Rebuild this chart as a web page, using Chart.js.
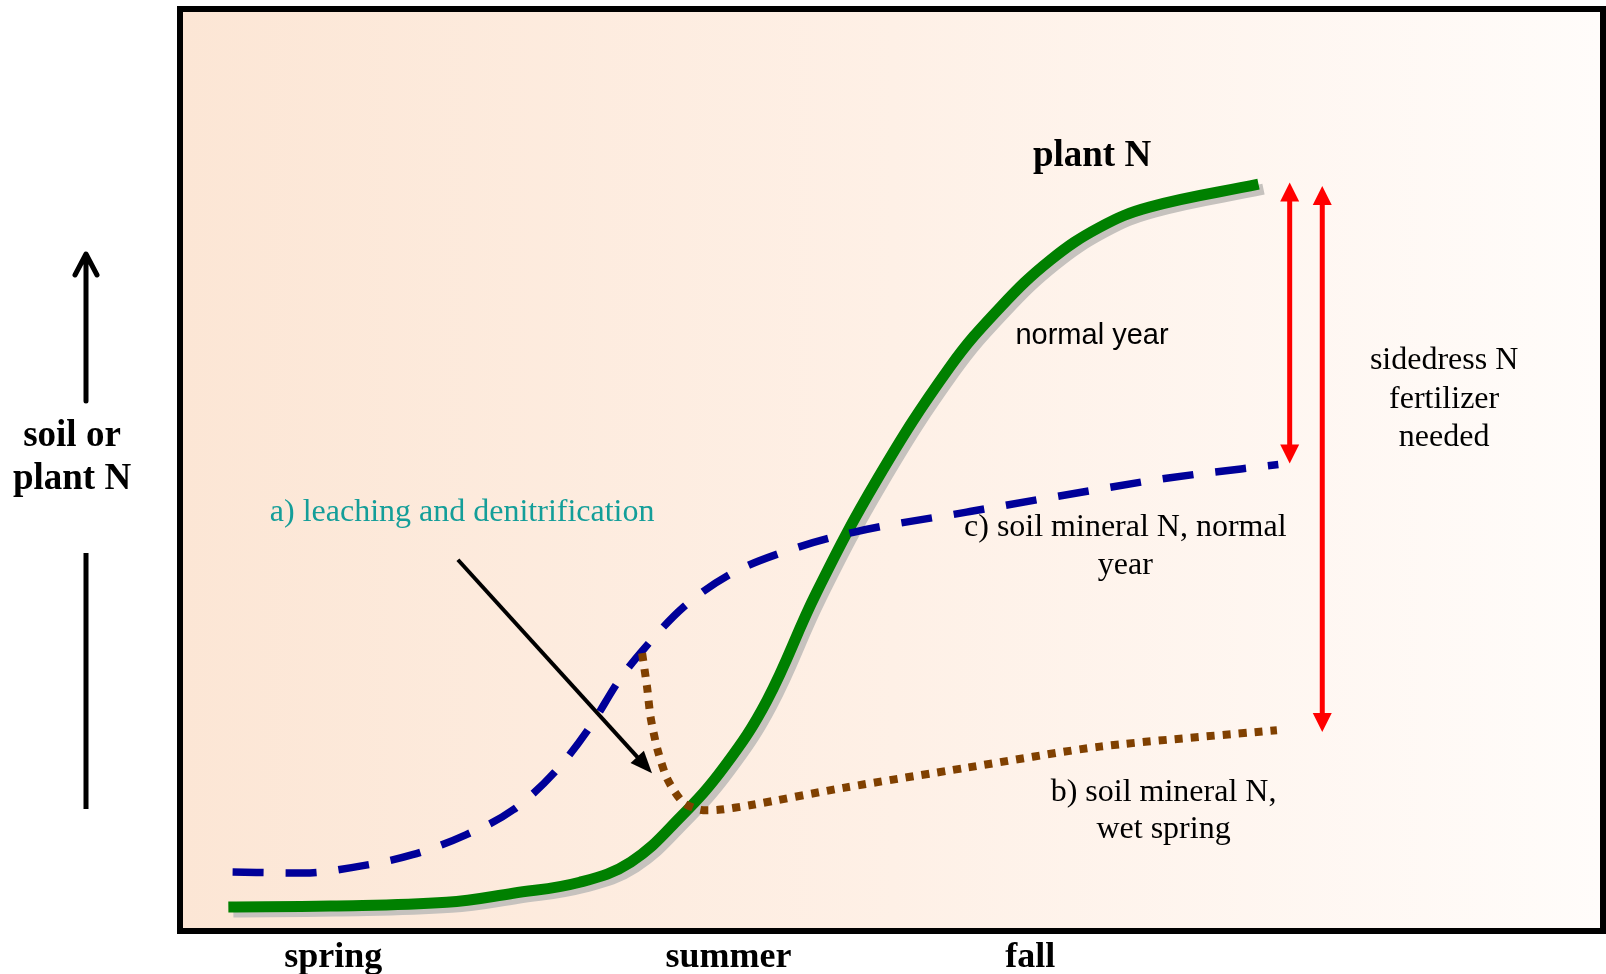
<!DOCTYPE html>
<html><head><meta charset="utf-8">
<script src="https://cdn.jsdelivr.net/npm/chart.js@4/dist/chart.umd.min.js"></script>
<style>html,body{margin:0;padding:0;background:#fff;overflow:hidden}#wrap{width:1606px;height:974px;position:relative}</style>
</head><body><div id="wrap"><canvas id="c" width="1606" height="974"></canvas></div>
<script>
// ---- data (x = time through the season, y = relative N level, both 0-100) ----
const seasonLabels = ['spring', 'summer', 'fall'];
const seasonTicks  = [10.6, 38.5, 59.8];

const plantTime = [3.2, 10.4, 18.6, 23.3, 28.0, 31.6, 35.1, 38.2, 41.2, 44.7, 49.0, 54.1, 57.7, 61.2, 64.7, 68.2, 75.9];
const plantN    = [2.3, 2.4, 2.8, 3.8, 5.0, 7.2, 12.1, 17.6, 24.8, 36.6, 49.0, 61.2, 67.8, 72.9, 76.5, 78.7, 81.2];

const normalTime = [3.5, 8.5, 12.3, 16.2, 20.0, 23.3, 26.4, 28.7, 30.8, 32.6, 35.3, 38.6, 42.1, 47.3, 55.3, 63.5, 69.4, 77.3];
const soilNormal = [6.1, 6.0, 6.7, 8.0, 10.2, 12.9, 17.3, 21.9, 27.1, 30.6, 35.0, 38.6, 40.9, 43.2, 45.4, 47.6, 49.1, 50.6];

const wetTime  = [32.4, 32.75, 33.0, 33.5, 34.2, 35.3, 36.5, 37.8, 40.0, 46.6, 55.3, 64.7, 77.2];
const soilWet  = [30.0, 26.3, 23.0, 19.4, 16.2, 13.7, 12.9, 12.9, 13.4, 15.3, 17.5, 19.8, 21.6];

// double-headed "sidedress" arrows: x, top, bottom
const sidedressX      = [78.1, 80.4];
const sidedressTop    = [81.4, 81.0];
const sidedressBottom = [50.7, 21.4];

// leaching arrow: from -> to
const leachFrom = [19.4, 40.2];
const leachTo   = [33.1, 16.9];

const toPts = (xs, ys) => xs.map((x, i) => ({x, y: ys[i]}));

const SERIF = '"Liberation Serif", "Times New Roman", serif';
const SANS  = '"Liberation Sans", Arial, sans-serif';

const notes = [
  {lines: ['plant N'], x: 64.15, y: 84.2, font: 'bold 37px ' + SERIF, color: '#000'},
  {lines: ['normal year'], x: 64.15, y: 64.6, font: '29px ' + SANS, color: '#000'},
  {lines: ['a) leaching and denitrification'], x: 19.7, y: 45.3, font: '32px ' + SERIF, color: '#149e99'},
  {lines: ['c) soil mineral N, normal', 'year'], x: 66.5, y: 43.7, font: '32px ' + SERIF, color: '#000', lh: 4.15},
  {lines: ['b) soil mineral N,', 'wet spring'], x: 69.2, y: 14.8, font: '32px ' + SERIF, color: '#000', lh: 4.05},
  {lines: ['sidedress N', 'fertilizer', 'needed'], x: 89.0, y: 61.9, font: '32px ' + SERIF, color: '#000', lh: 4.2}
];

function head(ctx, x1, y1, x2, y2, len, w) {
  const a = Math.atan2(y2 - y1, x2 - x1);
  const bx = x2 - len * Math.cos(a), by = y2 - len * Math.sin(a);
  ctx.beginPath();
  ctx.moveTo(x2, y2);
  ctx.lineTo(bx + (w / 2) * Math.sin(a), by - (w / 2) * Math.cos(a));
  ctx.lineTo(bx - (w / 2) * Math.sin(a), by + (w / 2) * Math.cos(a));
  ctx.closePath();
  ctx.fill();
  return [bx, by];
}

const annot = {
  id: 'annot',
  beforeDraw(chart) {
    const {ctx, chartArea: a} = chart;
    ctx.save();
    const g = ctx.createLinearGradient(a.left, 0, a.right, 0);
    g.addColorStop(0, '#fce6d5');
    g.addColorStop(0.5, '#fef0e6');
    g.addColorStop(1, '#fffcfa');
    ctx.fillStyle = g;
    ctx.fillRect(a.left, a.top, a.width, a.height);
    ctx.restore();
  },
  beforeDatasetDraw(chart, args) {
    if (args.index === 2) {
      const ctx = chart.ctx;
      ctx.save();
      ctx.shadowColor = '#c6c2be';
      ctx.shadowOffsetX = 5;
      ctx.shadowOffsetY = 5;
      ctx.shadowBlur = 0;
    }
  },
  afterDatasetDraw(chart, args) {
    if (args.index === 2) chart.ctx.restore();
  },
  afterDatasetsDraw(chart) {
    const {ctx, chartArea: a, scales: {x, y}} = chart;
    ctx.save();
    // frame
    ctx.lineWidth = 6;
    ctx.strokeStyle = '#000';
    ctx.strokeRect(a.left - 3, a.top - 3, a.width + 6, a.height + 6);

    // red double arrows
    ctx.strokeStyle = '#ff0000';
    ctx.fillStyle = '#ff0000';
    ctx.lineWidth = 5;
    sidedressX.forEach((vx, i) => {
      const px = x.getPixelForValue(vx);
      const t = y.getPixelForValue(sidedressTop[i]);
      const b = y.getPixelForValue(sidedressBottom[i]);
      head(ctx, px, b, px, t, 19, 19);
      head(ctx, px, t, px, b, 19, 19);
      ctx.beginPath();
      ctx.moveTo(px, t + 17);
      ctx.lineTo(px, b - 17);
      ctx.stroke();
    });

    // black leaching arrow
    ctx.strokeStyle = '#000';
    ctx.fillStyle = '#000';
    ctx.lineWidth = 4;
    const x1 = x.getPixelForValue(leachFrom[0]), y1 = y.getPixelForValue(leachFrom[1]);
    const x2 = x.getPixelForValue(leachTo[0]), y2 = y.getPixelForValue(leachTo[1]);
    const [bx, by] = head(ctx, x1, y1, x2, y2, 22, 18);
    ctx.beginPath();
    ctx.moveTo(x1, y1);
    ctx.lineTo(bx + (x2 - bx) * 0.2, by + (y2 - by) * 0.2);
    ctx.stroke();

    // left axis arrow and label
    ctx.lineWidth = 5;
    ctx.lineCap = 'round';
    ctx.lineJoin = 'round';
    ctx.beginPath();
    ctx.moveTo(86, 401); ctx.lineTo(86, 256);
    ctx.moveTo(75, 275); ctx.lineTo(86, 254); ctx.lineTo(97, 275);
    ctx.stroke();
    ctx.lineCap = 'butt';
    ctx.beginPath();
    ctx.moveTo(86, 553); ctx.lineTo(86, 809);
    ctx.stroke();
    ctx.textAlign = 'center';
    ctx.textBaseline = 'middle';
    ctx.font = 'bold 37px ' + SERIF;
    ctx.fillText('soil or', 72, 436);
    ctx.fillText('plant N', 72, 479);

    // notes
    notes.forEach(n => {
      ctx.font = n.font;
      ctx.fillStyle = n.color;
      const px = x.getPixelForValue(n.x);
      n.lines.forEach((ln, i) => {
        const py = y.getPixelForValue(n.y - i * (n.lh || 0));
        ctx.fillText(ln, px, py);
      });
    });
    ctx.restore();
  }
};

new Chart(document.getElementById('c'), {
  type: 'scatter',
  data: {
    datasets: [
      {label: 'b) soil mineral N, wet spring', data: toPts(wetTime, soilWet), showLine: true,
       borderColor: '#804000', borderWidth: 8, borderDash: [8, 8], borderCapStyle: 'butt',
       tension: 0.25, pointRadius: 0, fill: false},
      {label: 'c) soil mineral N, normal year', data: toPts(normalTime, soilNormal), showLine: true,
       borderColor: '#000099', borderWidth: 7.5, borderDash: [31, 22], borderCapStyle: 'butt',
       cubicInterpolationMode: 'monotone', pointRadius: 0, fill: false},
      {label: 'plant N', data: toPts(plantTime, plantN), showLine: true,
       borderColor: '#008000', borderWidth: 11, borderCapStyle: 'butt', borderJoinStyle: 'round',
       tension: 0.4, pointRadius: 0, fill: false}
    ]
  },
  options: {
    responsive: false,
    animation: false,
    devicePixelRatio: 1,
    layout: {padding: {left: 183, right: 6, top: 12, bottom: 0}},
    plugins: {legend: {display: false}, tooltip: {enabled: false}},
    scales: {
      x: {
        type: 'linear', min: 0, max: 100,
        grid: {display: false}, border: {display: false},
        afterBuildTicks: s => { s.ticks = seasonTicks.map(v => ({value: v})); },
        afterFit: s => { s.height = 46; },
        ticks: {
          autoSkip: false, maxRotation: 0, padding: 0, color: '#000',
          font: {family: SERIF, size: 36, weight: 'bold', lineHeight: 1.2},
          callback: (v, i) => seasonLabels[i]
        }
      },
      y: {type: 'linear', min: 0, max: 100, display: false}
    }
  },
  plugins: [annot]
});
</script>
</body></html>
